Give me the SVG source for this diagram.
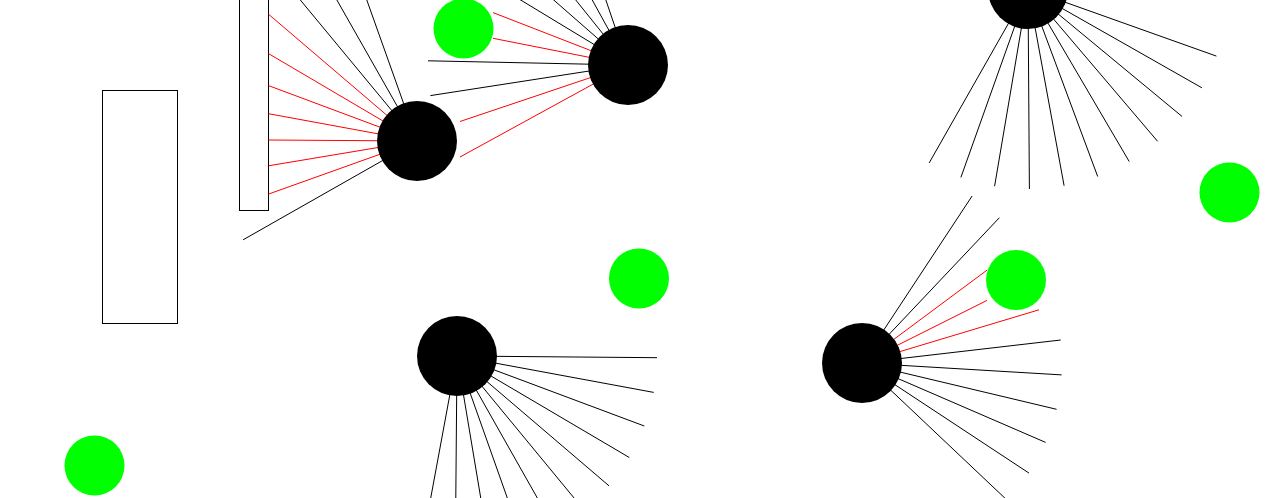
<svg xmlns="http://www.w3.org/2000/svg" width="1271" height="498" viewBox="0 0 1271 498">
<style>
.ray{stroke:#000;stroke-width:1;fill:none}
.hit{stroke:#ff0000;stroke-width:1;fill:none}
.robot{fill:#000}
.goal{fill:#00ff00}
.obs{fill:#fff;stroke:#000;stroke-width:1}
</style>
<rect width="1271" height="498" fill="#fff"/>
<g id="obstacles">
<rect id="box" class="obs" x="102.5" y="90.5" width="75" height="233"/>
<rect id="wall" class="obs" x="239.5" y="-20" width="29" height="230.5"/>
</g>
<g id="rays">
<!-- robot 1 -->
<line class="ray" x1="417" y1="141" x2="243.1" y2="239.8"/>
<line class="hit" x1="417" y1="141" x2="268.5" y2="194.1"/>
<line class="hit" x1="417" y1="141" x2="268.5" y2="165.8"/>
<line class="hit" x1="417" y1="141" x2="268.5" y2="140"/>
<line class="hit" x1="417" y1="141" x2="268.5" y2="113.7"/>
<line class="hit" x1="417" y1="141" x2="268.5" y2="85.6"/>
<line class="hit" x1="417" y1="141" x2="268.5" y2="53.6"/>
<line class="hit" x1="417" y1="141" x2="268.5" y2="14.2"/>
<line class="ray" x1="417" y1="141" x2="289.5" y2="-13.1"/>
<line class="ray" x1="417" y1="141" x2="318.2" y2="-32.9"/>
<line class="ray" x1="417" y1="141" x2="349.9" y2="-47.4"/>
<!-- robot 2 -->
<line class="hit" x1="628" y1="65" x2="460" y2="157"/>
<line class="hit" x1="628" y1="65" x2="460" y2="121.5"/>
<line class="ray" x1="628" y1="65" x2="430.4" y2="95.6"/>
<line class="ray" x1="628" y1="65" x2="428" y2="60.8"/>
<line class="hit" x1="628" y1="65" x2="493" y2="38.3"/>
<line class="hit" x1="628" y1="65" x2="493" y2="12.6"/>
<line class="ray" x1="628" y1="65" x2="456.9" y2="-38.6"/>
<line class="ray" x1="628" y1="65" x2="477.5" y2="-66.7"/>
<line class="ray" x1="628" y1="65" x2="502.7" y2="-90.9"/>
<line class="ray" x1="628" y1="65" x2="531.6" y2="-110.3"/>
<line class="ray" x1="628" y1="65" x2="563.5" y2="-124.3"/>
<!-- robot 3 -->
<line class="ray" x1="1028" y1="-11" x2="1216.4" y2="56.1"/>
<line class="ray" x1="1028" y1="-11" x2="1201.9" y2="87.8"/>
<line class="ray" x1="1028" y1="-11" x2="1182.1" y2="116.5"/>
<line class="ray" x1="1028" y1="-11" x2="1157.6" y2="141.3"/>
<line class="ray" x1="1028" y1="-11" x2="1129.2" y2="161.5"/>
<line class="ray" x1="1028" y1="-11" x2="1097.7" y2="176.5"/>
<line class="ray" x1="1028" y1="-11" x2="1064.1" y2="185.7"/>
<line class="ray" x1="1028" y1="-11" x2="1029.4" y2="189"/>
<line class="ray" x1="1028" y1="-11" x2="994.6" y2="186.2"/>
<line class="ray" x1="1028" y1="-11" x2="960.9" y2="177.4"/>
<line class="ray" x1="1028" y1="-11" x2="929.2" y2="162.9"/>
<!-- robot 4 -->
<line class="ray" x1="457" y1="356" x2="657" y2="357.7"/>
<line class="ray" x1="457" y1="356" x2="653.7" y2="392.4"/>
<line class="ray" x1="457" y1="356" x2="644.3" y2="426"/>
<line class="ray" x1="457" y1="356" x2="629.3" y2="457.5"/>
<line class="ray" x1="457" y1="356" x2="609.1" y2="485.9"/>
<line class="ray" x1="457" y1="356" x2="584.2" y2="510.3"/>
<line class="ray" x1="457" y1="356" x2="555.5" y2="530.1"/>
<line class="ray" x1="457" y1="356" x2="523.8" y2="544.5"/>
<line class="ray" x1="457" y1="356" x2="490" y2="553.3"/>
<line class="ray" x1="457" y1="356" x2="455.3" y2="556"/>
<line class="ray" x1="457" y1="356" x2="420.6" y2="552.7"/>
<!-- robot 5 -->
<line class="ray" x1="862" y1="363" x2="972.1" y2="196"/>
<line class="ray" x1="862" y1="363" x2="999.4" y2="217.7"/>
<line class="hit" x1="862" y1="363" x2="987.2" y2="270"/>
<line class="hit" x1="862" y1="363" x2="987" y2="300.4"/>
<line class="hit" x1="862" y1="363" x2="1039" y2="309.8"/>
<line class="ray" x1="862" y1="363" x2="1060.7" y2="340"/>
<line class="ray" x1="862" y1="363" x2="1061.6" y2="374.9"/>
<line class="ray" x1="862" y1="363" x2="1056.6" y2="409.3"/>
<line class="ray" x1="862" y1="363" x2="1045.6" y2="442.4"/>
<line class="ray" x1="862" y1="363" x2="1029" y2="473.1"/>
<line class="ray" x1="862" y1="363" x2="1007.3" y2="500.4"/>
</g>
<g id="robot1"><circle class="robot" cx="417" cy="141" r="40"/></g>
<g id="robot2"><circle class="robot" cx="628" cy="65" r="40"/></g>
<g id="robot3"><circle class="robot" cx="1028" cy="-11" r="40"/></g>
<g id="robot4"><circle class="robot" cx="457" cy="356" r="40"/></g>
<g id="robot5"><circle class="robot" cx="862" cy="363" r="40"/></g>
<g id="goal1"><circle class="goal" cx="463.5" cy="28.5" r="30"/></g>
<g id="goal2"><circle class="goal" cx="639" cy="278.5" r="30"/></g>
<g id="goal3"><circle class="goal" cx="1229.5" cy="192.5" r="30"/></g>
<g id="goal4"><circle class="goal" cx="1016" cy="280" r="30"/></g>
<g id="goal5"><circle class="goal" cx="94.5" cy="465.5" r="30"/></g>
</svg>
